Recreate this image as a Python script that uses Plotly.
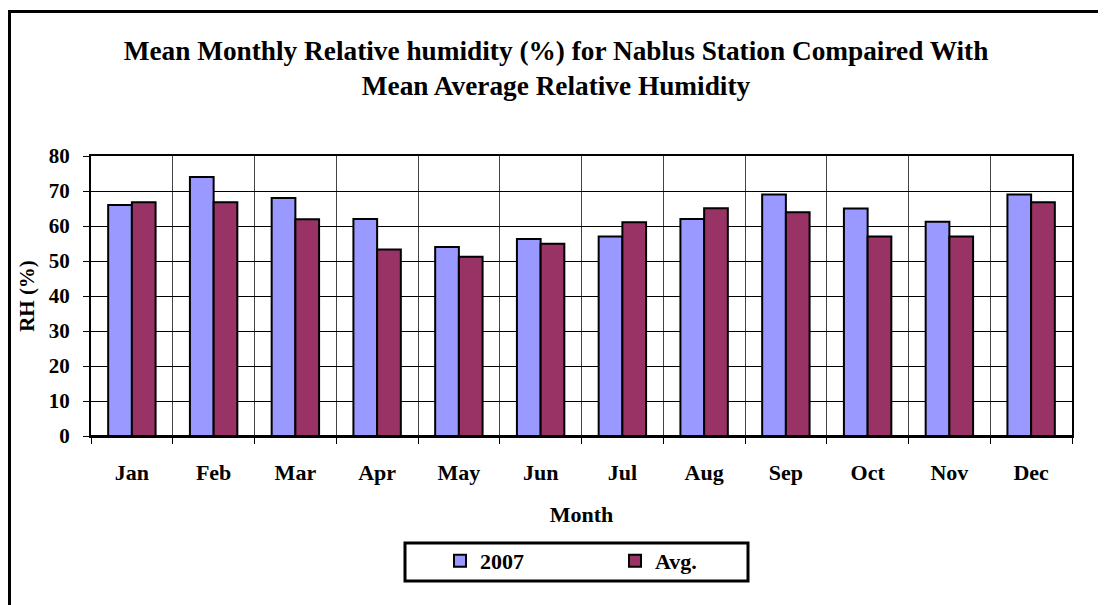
import plotly.graph_objects as go

months = ["Jan", "Feb", "Mar", "Apr", "May", "Jun", "Jul", "Aug", "Sep", "Oct", "Nov", "Dec"]
rh_2007 = [66, 74, 68, 62, 54, 56.3, 57, 62, 69, 65, 61.2, 69]
rh_avg = [66.8, 66.8, 61.9, 53.3, 51.2, 54.9, 61.1, 65.1, 63.9, 57, 57, 66.8]

FONT = "Liberation Serif, Times New Roman, serif"
OFF = 8  # default page body margin

# desired page-pixel geometry of the plot area
PL, PR, PT, PB = 91, 1072, 156, 436
W, H = 1106 - OFF, 605 - OFF
L, T = PL - OFF, PT - OFF
R, B = W - (PR - OFF), H - (PB - OFF)
pw, ph = PR - PL, PB - PT

def px_x(p):
    return (p - PL) / pw

def px_y(p):
    return (PB - p) / ph

fig = go.Figure()
fig.add_trace(go.Bar(x=months, y=rh_2007, name="2007",
                     marker=dict(color="#9999FF", line=dict(color="black", width=2))))
fig.add_trace(go.Bar(x=months, y=rh_avg, name="Avg.",
                     marker=dict(color="#993366", line=dict(color="black", width=2))))

fig.update_layout(
    width=W, height=H,
    margin=dict(l=L, r=R, t=T, b=B, pad=0),
    paper_bgcolor="white", plot_bgcolor="white",
    font=dict(family=FONT, color="black", size=21),
    barmode="group", bargap=0.42, bargroupgap=0.0,
    title=dict(text="<b>Mean Monthly Relative humidity (%) for Nablus Station Compaired With<br>Mean Average Relative Humidity</b>",
               x=(556 - OFF) / W, xref="container", xanchor="center",
               y=1 - (60 - OFF) / H, yref="container", yanchor="top",
               font=dict(family=FONT, size=27.3, color="black")),
    xaxis=dict(
        type="category", tickson="boundaries", showgrid=True, gridcolor="#444444", gridwidth=1,
        showline=True, linecolor="black", linewidth=2, mirror=True,
        ticks="outside", ticklen=6, tickcolor="black", tickwidth=1,
        ticklabelstandoff=16,
        tickfont=dict(family=FONT, size=22, color="black", weight="bold"),
        title=dict(text="<b>Month</b>", font=dict(family=FONT, size=22, color="black"), standoff=22),
    ),
    yaxis=dict(
        range=[0, 80], dtick=10, showgrid=True, gridcolor="black", gridwidth=1,
        showline=True, linecolor="black", linewidth=2, mirror=True,
        ticks="outside", ticklen=6, tickcolor="black", tickwidth=1,
        ticklabelstandoff=9,
        zeroline=True, zerolinecolor="black", zerolinewidth=2,
        tickfont=dict(family=FONT, size=21, color="black", weight="bold"),
        title=dict(text="<b>RH (%)</b>", font=dict(family=FONT, size=21, color="black"), standoff=8),
    ),
    legend=dict(
        orientation="h", x=px_x(440), xanchor="left", y=px_y(540), yanchor="top",
        borderwidth=0, bgcolor="rgba(0,0,0,0)",
        font=dict(family=FONT, size=22, color="black", weight="bold"),
        entrywidth=130, traceorder="normal",
    ),
    showlegend=True,
)

# legend box
fig.add_shape(type="rect", xref="paper", yref="paper",
              x0=px_x(405), x1=px_x(748), y0=px_y(581), y1=px_y(543),
              line=dict(color="black", width=3), fillcolor="rgba(0,0,0,0)", layer="above")

# Outer chart-area frame (partly cropped in the reference)
fig.add_shape(type="rect", xref="paper", yref="paper",
              x0=px_x(9.5), x1=px_x(1140), y0=px_y(650), y1=px_y(11.5),
              line=dict(color="black", width=3), fillcolor="rgba(0,0,0,0)", layer="above")

fig.write_html("out.html")
